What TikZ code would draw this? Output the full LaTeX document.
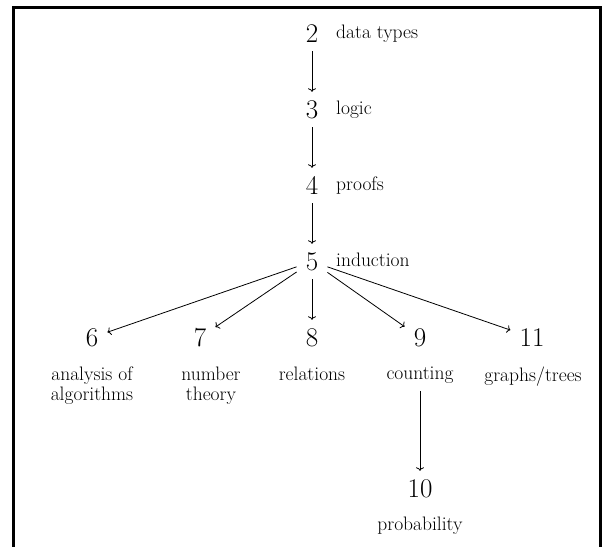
\documentclass[tikz,border=0pt]{standalone}
\usetikzlibrary{arrows.meta}
\begin{document}
\begin{tikzpicture}[x=1pt,y=-1pt,
  num/.style={anchor=base,inner sep=9pt,text height=17pt,text depth=0pt,font=\fontsize{27}{32}\selectfont},
  side/.style={anchor=base west,inner sep=0pt,font=\fontsize{19.5}{23}\selectfont},
  lab/.style={anchor=north,inner sep=0pt,align=center,font=\fontsize{19.5}{20}\selectfont},
  conn/.style={line width=0.8pt,-{To[length=3.5pt,width=8pt]}},
  frame/.style={line width=3pt}]
\useasboundingbox (0,0) rectangle (607,546);
\draw[frame] (13.5,550) -- (13.5,7) -- (600,7) -- (600,550);
% spine
\node[num] (n2) at (312,42) {2};
\node[num] (n3) at (312,118) {3};
\node[num] (n4) at (312,194) {4};
\node[num] (n5) at (312,270) {5};
\node[side] (l2) at (336,38) {data types};
\node[side] (l3) at (336,114) {logic};
\node[side] (l4) at (336,190) {proofs};
\node[side] (l5) at (336,266) {induction};
% row
\node[num] (n6) at (92,346) {6};
\node[num] (n7) at (200,346) {7};
\node[num] (n8) at (312,346) {8};
\node[num] (n9) at (420,346) {9};
\node[num] (n11) at (532,346) {11};
\node[lab] (c6) at (92,367) {analysis of\\algorithms};
\node[lab] (c7) at (211,367) {number\\theory};
\node[lab] (c8) at (312,367) {relations};
\node[lab] (c9) at (420,367) {counting};
\node[lab] (c11) at (533,367) {graphs/trees};
\node[num] (n10) at (420,497) {10};
\node[side,anchor=base] (c10) at (420,530) {probability};
% connectors
\draw[conn] (n2) -- (n3);
\draw[conn] (n3) -- (n4);
\draw[conn] (n4) -- (n5);
\draw[conn] (n5) -- (n6);
\draw[conn] (n5) -- (n7);
\draw[conn] (n5) -- (n8);
\draw[conn] (n5) -- (n9);
\draw[conn] (n5) -- (n11);
\draw[conn,shorten <=7pt] (c9.south) -- (n10);
\end{tikzpicture}
\end{document}
